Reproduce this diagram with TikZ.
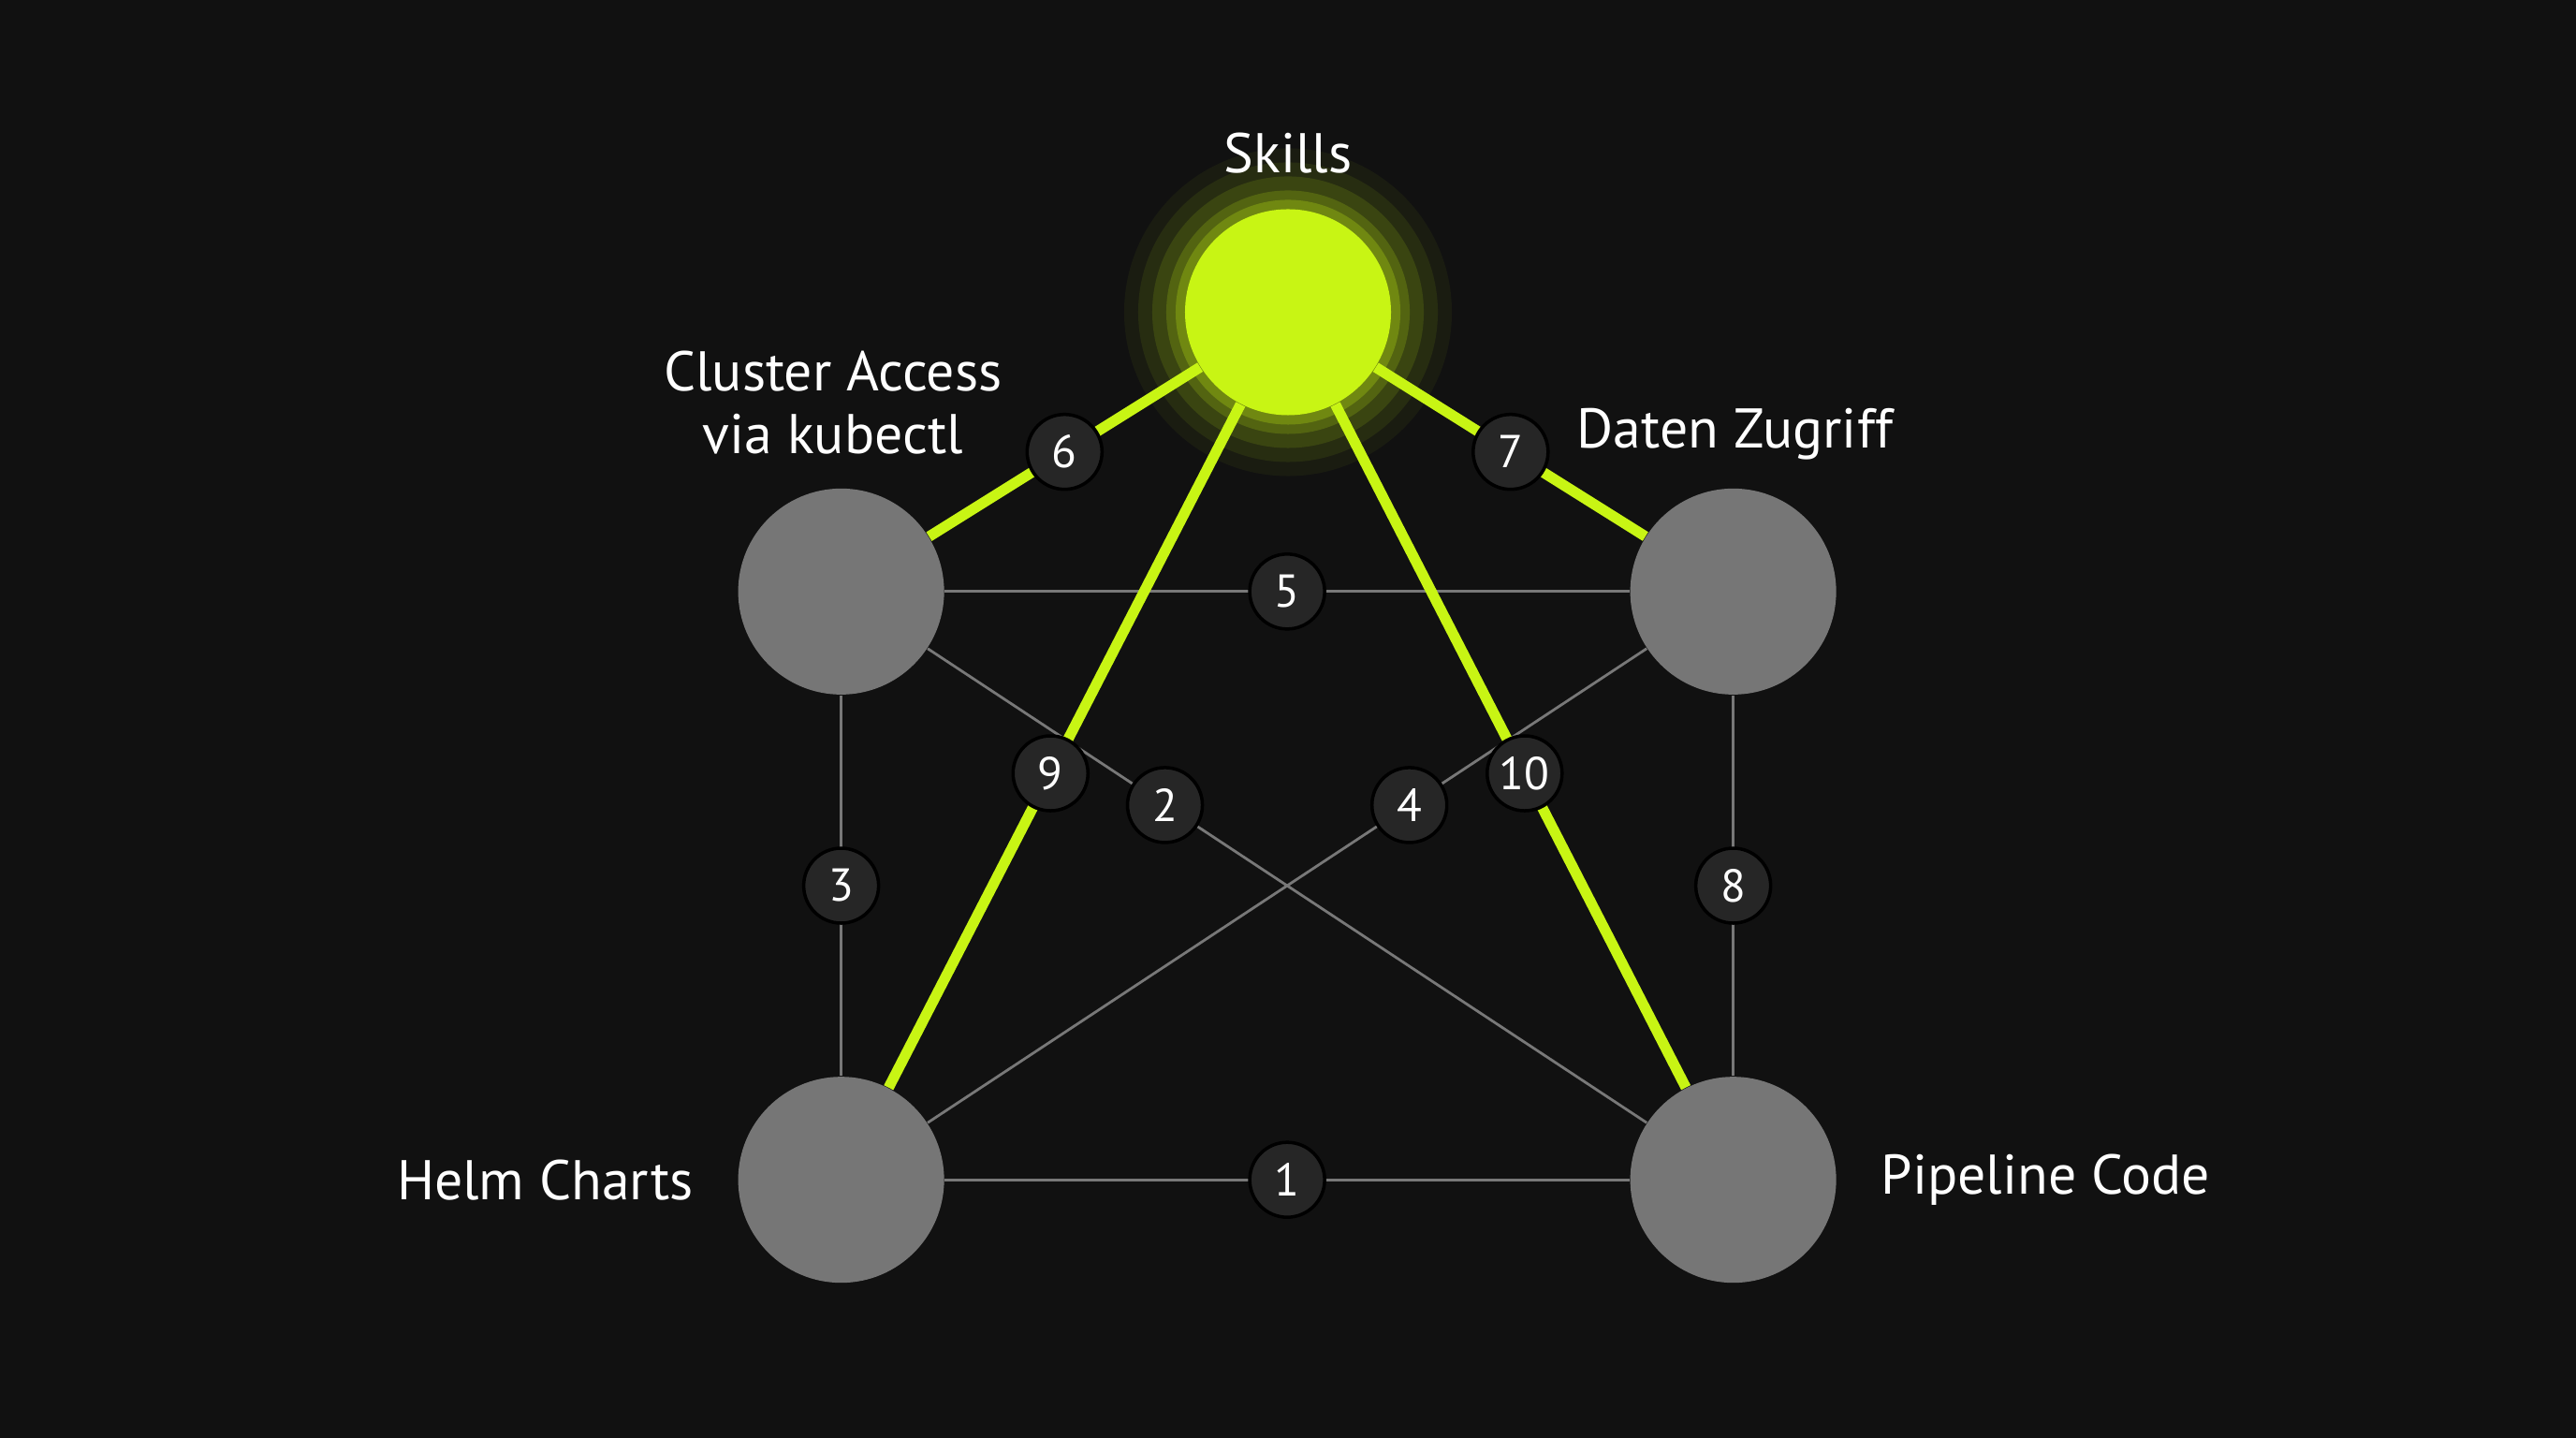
\documentclass[tikz,border=0pt]{standalone}
\usepackage{fontspec}
\setmainfont{PT Sans}
\usetikzlibrary{positioning}
\definecolor{bg}{RGB}{17,17,17}
\definecolor{lime}{RGB}{200,245,20}
\definecolor{nodegray}{RGB}{118,118,118}
\definecolor{wire}{RGB}{120,120,120}
\definecolor{badgefill}{RGB}{38,38,38}

\begin{document}
\begin{tikzpicture}[x=0.01755cm,y=-0.01755cm]

  \tikzstyle{skill}=[circle,fill=nodegray,minimum size=2.2cm,inner sep=0pt]
  \tikzstyle{hub}=[circle,fill=lime,minimum size=2.2cm,inner sep=0pt]
  \tikzstyle{lbl}=[text=white,font=\fontsize{17}{19}\selectfont,align=center]
  \tikzstyle{badge}=[circle,fill=badgefill,draw=black,line width=1pt,text=white,
    minimum size=0.8cm,inner sep=0pt,font=\fontsize{14}{16}\selectfont]
  \tikzstyle{thin}=[draw=wire,line width=0.8pt]
  \tikzstyle{thick}=[draw=lime,line width=3.2pt]

  \fill[bg] (0,0) rectangle (1568,875);

  %% glow
  \foreach \r/\o in {1.75/0.05,1.6/0.08,1.45/0.12,1.3/0.18,1.2/0.25}
    \fill[lime,opacity=\o] (784,190) circle (\r cm);

  \node (cl) at (512,360)  [skill] {};
  \node (dz) at (1055,360) [skill] {};
  \node (hc) at (512,718)  [skill] {};
  \node (pc) at (1055,718) [skill] {};
  \node (sk) at (784,190)  [hub]   {};

  \node [lbl,above=0.25cm of sk] {Skills};
  \node [lbl] at (507,245) {Cluster Access\\via kubectl};
  \node [lbl] at (1056,264) {Daten Zugriff};
  \node [lbl,left=0.35cm of hc] {Helm Charts};
  \node [lbl,right=0.35cm of pc] {Pipeline Code};

  \path (hc) edge [thin] node[badge,pos=0.5]  {1} (pc)
        (cl) edge [thin] node[badge,pos=0.33] {2} (pc)
             edge [thin] node[badge,pos=0.5]  {3} (hc)
             edge [thin] node[badge,pos=0.5]  {5} (dz)
        (dz) edge [thin] node[badge,pos=0.33] {4} (hc)
             edge [thin] node[badge,pos=0.5]  {8} (pc)
        (sk) edge [thick] node[badge,pos=0.5]  {6}  (cl)
             edge [thick] node[badge,pos=0.5]  {7}  (dz)
             edge [thick] node[badge,pos=0.54] {9}  (hc)
             edge [thick] node[badge,pos=0.54] {10} (pc);

\end{tikzpicture}
\end{document}
